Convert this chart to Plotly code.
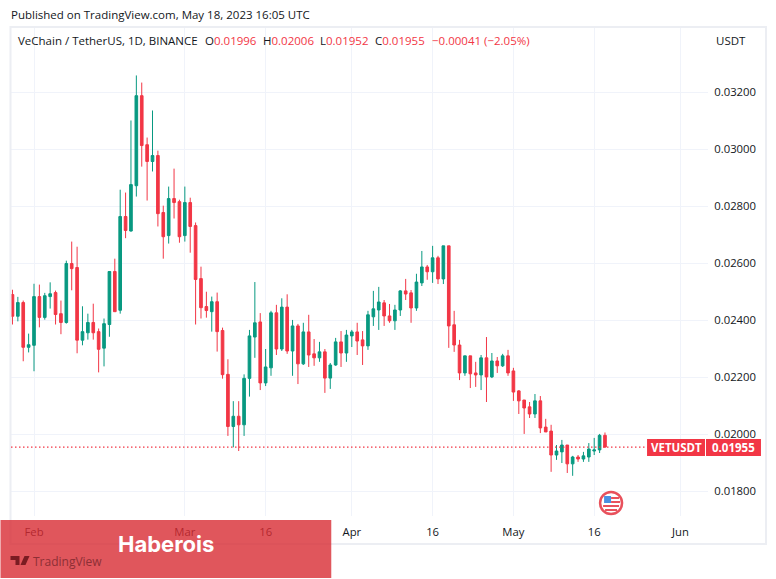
import pandas as pd
import plotly.graph_objects as go

#%% Datos (VETUSDT diario, desde el 28 de enero de 2023)
first_day = "2023-01-28"

open_ = [0.02490, 0.02414, 0.02462, 0.02305, 0.02312, 0.02483, 0.02410, 0.02483, 0.02497, 0.02423,
         0.02392, 0.02599, 0.02585, 0.02330, 0.02356, 0.02392, 0.02360, 0.02302, 0.02385, 0.02571,
         0.02435, 0.02764, 0.02713, 0.02872, 0.03188, 0.03016, 0.02957, 0.02978, 0.02778, 0.02697,
         0.02827, 0.02816, 0.02697, 0.02813, 0.02732, 0.02546, 0.02448, 0.02430, 0.02465, 0.02364,
         0.02210, 0.02027, 0.02063, 0.02033, 0.02196, 0.02341, 0.02394, 0.02180, 0.02233, 0.02426,
         0.02299, 0.02446, 0.02292, 0.02380, 0.02247, 0.02359, 0.02282, 0.02268, 0.02289, 0.02197,
         0.02243, 0.02324, 0.02285, 0.02345, 0.02359, 0.02331, 0.02310, 0.02412, 0.02436, 0.02461,
         0.02415, 0.02398, 0.02436, 0.02503, 0.02496, 0.02443, 0.02531, 0.02587, 0.02570, 0.02619,
         0.02545, 0.02661, 0.02384, 0.02313, 0.02215, 0.02275, 0.02215, 0.02208, 0.02268, 0.02201,
         0.02257, 0.02240, 0.02275, 0.02222, 0.02152, 0.02120, 0.02096, 0.02071, 0.02117, 0.02025,
         0.02011, 0.01927, 0.01938, 0.01962, 0.01896, 0.01920, 0.01913, 0.01920, 0.01941, 0.01945,
         0.01996]
high = [0.02507, 0.02482, 0.02469, 0.02353, 0.02528, 0.02525, 0.02496, 0.02533, 0.02504, 0.02469,
        0.02609, 0.02676, 0.02658, 0.02449, 0.02423, 0.02458, 0.02371, 0.02406, 0.02571, 0.02616,
        0.02858, 0.02848, 0.03101, 0.03259, 0.03234, 0.03041, 0.03136, 0.02995, 0.02802, 0.02869,
        0.02932, 0.02823, 0.02869, 0.02830, 0.02743, 0.02588, 0.02500, 0.02483, 0.02497, 0.02374,
        0.02263, 0.02116, 0.02116, 0.02210, 0.02366, 0.02534, 0.02425, 0.02299, 0.02433, 0.02454,
        0.02477, 0.02491, 0.02401, 0.02387, 0.02391, 0.02419, 0.02334, 0.02324, 0.02299, 0.02250,
        0.02338, 0.02362, 0.02366, 0.02366, 0.02391, 0.02362, 0.02433, 0.02503, 0.02517, 0.02471,
        0.02457, 0.02454, 0.02506, 0.02545, 0.02506, 0.02563, 0.02643, 0.02594, 0.02661, 0.02626,
        0.02661, 0.02661, 0.02433, 0.02331, 0.02275, 0.02275, 0.02254, 0.02278, 0.02341, 0.02285,
        0.02271, 0.02282, 0.02296, 0.02233, 0.02155, 0.02120, 0.02113, 0.02141, 0.02134, 0.02054,
        0.02033, 0.01962, 0.01980, 0.01962, 0.01924, 0.01927, 0.01938, 0.01969, 0.01987, 0.02001,
        0.02006]
low = [0.02385, 0.02396, 0.02256, 0.02287, 0.02221, 0.02375, 0.02402, 0.02441, 0.02385, 0.02351,
       0.02388, 0.02505, 0.02284, 0.02312, 0.02332, 0.02332, 0.02217, 0.02238, 0.02342, 0.02430,
       0.02423, 0.02688, 0.02711, 0.02834, 0.02939, 0.02820, 0.02922, 0.02729, 0.02616, 0.02669,
       0.02757, 0.02672, 0.02676, 0.02637, 0.02385, 0.02406, 0.02409, 0.02360, 0.02290, 0.02195,
       0.01994, 0.01954, 0.01941, 0.01994, 0.02132, 0.02268, 0.02155, 0.02169, 0.02205, 0.02278,
       0.02292, 0.02282, 0.02205, 0.02176, 0.02243, 0.02236, 0.02240, 0.02254, 0.02145, 0.02159,
       0.02240, 0.02236, 0.02254, 0.02306, 0.02278, 0.02243, 0.02296, 0.02380, 0.02366, 0.02380,
       0.02391, 0.02366, 0.02415, 0.02471, 0.02391, 0.02433, 0.02520, 0.02542, 0.02531, 0.02527,
       0.02527, 0.02303, 0.02289, 0.02190, 0.02205, 0.02162, 0.02166, 0.02155, 0.02113, 0.02197,
       0.02215, 0.02236, 0.02205, 0.02117, 0.02071, 0.02001, 0.02057, 0.02057, 0.02004, 0.02008,
       0.01868, 0.01910, 0.01899, 0.01864, 0.01854, 0.01903, 0.01903, 0.01903, 0.01927, 0.01934,
       0.01952]
close = [0.02414, 0.02462, 0.02305, 0.02314, 0.02483, 0.02410, 0.02486, 0.02493, 0.02420, 0.02392,
         0.02599, 0.02581, 0.02330, 0.02360, 0.02392, 0.02356, 0.02298, 0.02388, 0.02571, 0.02430,
         0.02764, 0.02715, 0.02876, 0.03188, 0.03013, 0.02957, 0.02978, 0.02774, 0.02693, 0.02827,
         0.02813, 0.02693, 0.02813, 0.02729, 0.02543, 0.02444, 0.02434, 0.02465, 0.02360, 0.02209,
         0.02027, 0.02063, 0.02033, 0.02196, 0.02345, 0.02391, 0.02180, 0.02236, 0.02426, 0.02299,
         0.02446, 0.02292, 0.02380, 0.02247, 0.02359, 0.02278, 0.02268, 0.02289, 0.02197, 0.02243,
         0.02324, 0.02285, 0.02348, 0.02359, 0.02327, 0.02310, 0.02419, 0.02440, 0.02464, 0.02415,
         0.02398, 0.02436, 0.02503, 0.02492, 0.02443, 0.02534, 0.02587, 0.02570, 0.02619, 0.02545,
         0.02661, 0.02380, 0.02313, 0.02215, 0.02275, 0.02212, 0.02208, 0.02268, 0.02201, 0.02257,
         0.02240, 0.02275, 0.02215, 0.02148, 0.02117, 0.02092, 0.02071, 0.02117, 0.02022, 0.02008,
         0.01927, 0.01941, 0.01962, 0.01896, 0.01920, 0.01913, 0.01924, 0.01948, 0.01945, 0.01996,
         0.01955]

dates = pd.date_range(first_day, periods=len(close), freq="D")

price_ticks = [0.018, 0.020, 0.022, 0.024, 0.026, 0.028, 0.030, 0.032]
date_ticks = ["2023-02-01", "2023-03-01", "2023-03-16", "2023-04-01", "2023-04-16",
              "2023-05-01", "2023-05-16", "2023-06-01"]
date_labels = ["Feb", "Mar", "16", "Apr", "16", "May", "16", "Jun"]
last_price = 0.01955

#%% Tamanos y colores
W, H = 776, 579
L, R, T, B = 10.5, 68, 27, 63
GREEN = "#089981"
RED = "#f23645"
GRID = "#f0f3fa"
TEXT = "#131722"
FONT = "Open Sans"


# paper coords are relative to the plot area, so convert from screen pixels
def px(x):
    return (x - L) / (W - L - R)


def py(y):
    return 1 - (y - T) / (H - T - B)


def box(x0, y0, x1, y1, fill, line=None, lw=0, kind="rect"):
    return dict(type=kind, xref="paper", yref="paper", x0=px(x0), x1=px(x1), y0=py(y0), y1=py(y1),
                fillcolor=fill, line=dict(color=line, width=lw), layer="above")


def label(x, y, text, size=12, color=TEXT, anchor="left", family=FONT):
    return dict(xref="paper", yref="paper", x=px(x), y=py(y), text=text, showarrow=False,
                xanchor=anchor, yanchor="middle", font=dict(size=size, color=color, family=family))


#%% Grafico
fig = go.Figure(go.Candlestick(x=dates, open=open_, high=high, low=low, close=close,
                               whiskerwidth=0,
                               increasing=dict(line=dict(color=GREEN, width=1), fillcolor=GREEN),
                               decreasing=dict(line=dict(color=RED, width=1), fillcolor=RED),
                               hoverinfo="skip"))

shapes = [
    # marco del grafico
    box(10, 27, 766, 544, "rgba(0,0,0,0)", "#eceef3", 2),
    # precio actual
    dict(type="line", xref="paper", yref="y", x0=0, x1=1, y0=last_price, y1=last_price,
         line=dict(color=RED, width=1.3, dash="1.5px,2.5px"), layer="above"),
    box(647, 439, 705, 456, RED),
    box(706, 439, 761, 456, RED),
    # bandera
    box(600, 492, 622, 514, "#ffffff", "#e8515c", 2.5, "circle"),
    box(604, 496, 611, 503, "#4a90e2"),
    box(611, 497, 619, 499, "#e8515c"),
    box(611, 501, 620, 503, "#e8515c"),
    box(603, 505, 619, 507, "#e8515c"),
    box(605, 509, 617, 511, "#e8515c"),
    # banda roja inferior
    box(0, 520, 331, 578, "rgba(216,44,51,0.8)"),
    # logo
    dict(type="path", xref="paper", yref="paper", layer="above", fillcolor="#7a1c22", line=dict(width=0),
         path="M %f %f L %f %f L %f %f L %f %f L %f %f L %f %f Z" % (
             px(10), py(556), px(19), py(556), px(19), py(565), px(15), py(565), px(15), py(560), px(10), py(560))),
    dict(type="path", xref="paper", yref="paper", layer="above", fillcolor="#7a1c22", line=dict(width=0),
         path="M %f %f L %f %f L %f %f L %f %f Z" % (
             px(24), py(556), px(29), py(556), px(25), py(565), px(20), py(565))),
]

annotations = [
    label(8, 15, "Published on TradingView.com, May 18, 2023 16:05 UTC", 11.5),
    label(16, 41, "VeChain / TetherUS, 1D, BINANCE", 11.5),
    label(203, 41, "O<span style='color:%s'>0.01996</span>" % RED, 11.5),
    label(261, 41, "H<span style='color:%s'>0.02006</span>" % RED, 11.5),
    label(318, 41, "L<span style='color:%s'>0.01952</span>" % RED, 11.5),
    label(373, 41, "C<span style='color:%s'>0.01955</span>" % RED, 11.5),
    label(430, 41, "−0.00041 (−2.05%)", 11.5, RED),
    label(714, 41, "USDT", 11.5),
    label(676, 447.5, "<b>VETUSDT</b>", 11.5, "#ffffff", "center"),
    label(733.5, 447.5, "<b>0.01955</b>", 11.5, "#ffffff", "center"),
    label(166, 544, "<b>Haberois</b>", 22, "#ffffff", "center", "Inter"),
    label(31, 561, "TradingView", 12, "#8e2f35"),
]

fig.update_layout(
    width=W, height=H, margin=dict(l=L, r=R, t=T, b=B, autoexpand=False),
    paper_bgcolor="#ffffff", plot_bgcolor="#ffffff", showlegend=False,
    font=dict(family=FONT, size=11.3, color=TEXT),
    shapes=shapes, annotations=annotations,
)
fig.update_xaxes(range=["2023-01-27 17:30", "2023-06-06 03:00"], rangeslider_visible=False,
                 tickmode="array", tickvals=date_ticks, ticktext=date_labels, tickangle=0,
                 ticks="outside", ticklen=5, tickcolor="#ffffff", showgrid=True, gridcolor=GRID, gridwidth=1,
                 zeroline=False, showline=False)
fig.update_yaxes(range=[0.01713, 0.03429], side="right", tickmode="array", tickvals=price_ticks,
                 ticktext=["%.5f" % p for p in price_ticks],
                 ticks="outside", ticklen=3, tickcolor="#ffffff", showgrid=True, gridcolor=GRID, gridwidth=1,
                 zeroline=False, showline=False)

# sin margen en el body para que coincidan los pixeles
fig.write_html("out.html", config=dict(displayModeBar=False),
               post_script="document.body.style.margin='0';")
